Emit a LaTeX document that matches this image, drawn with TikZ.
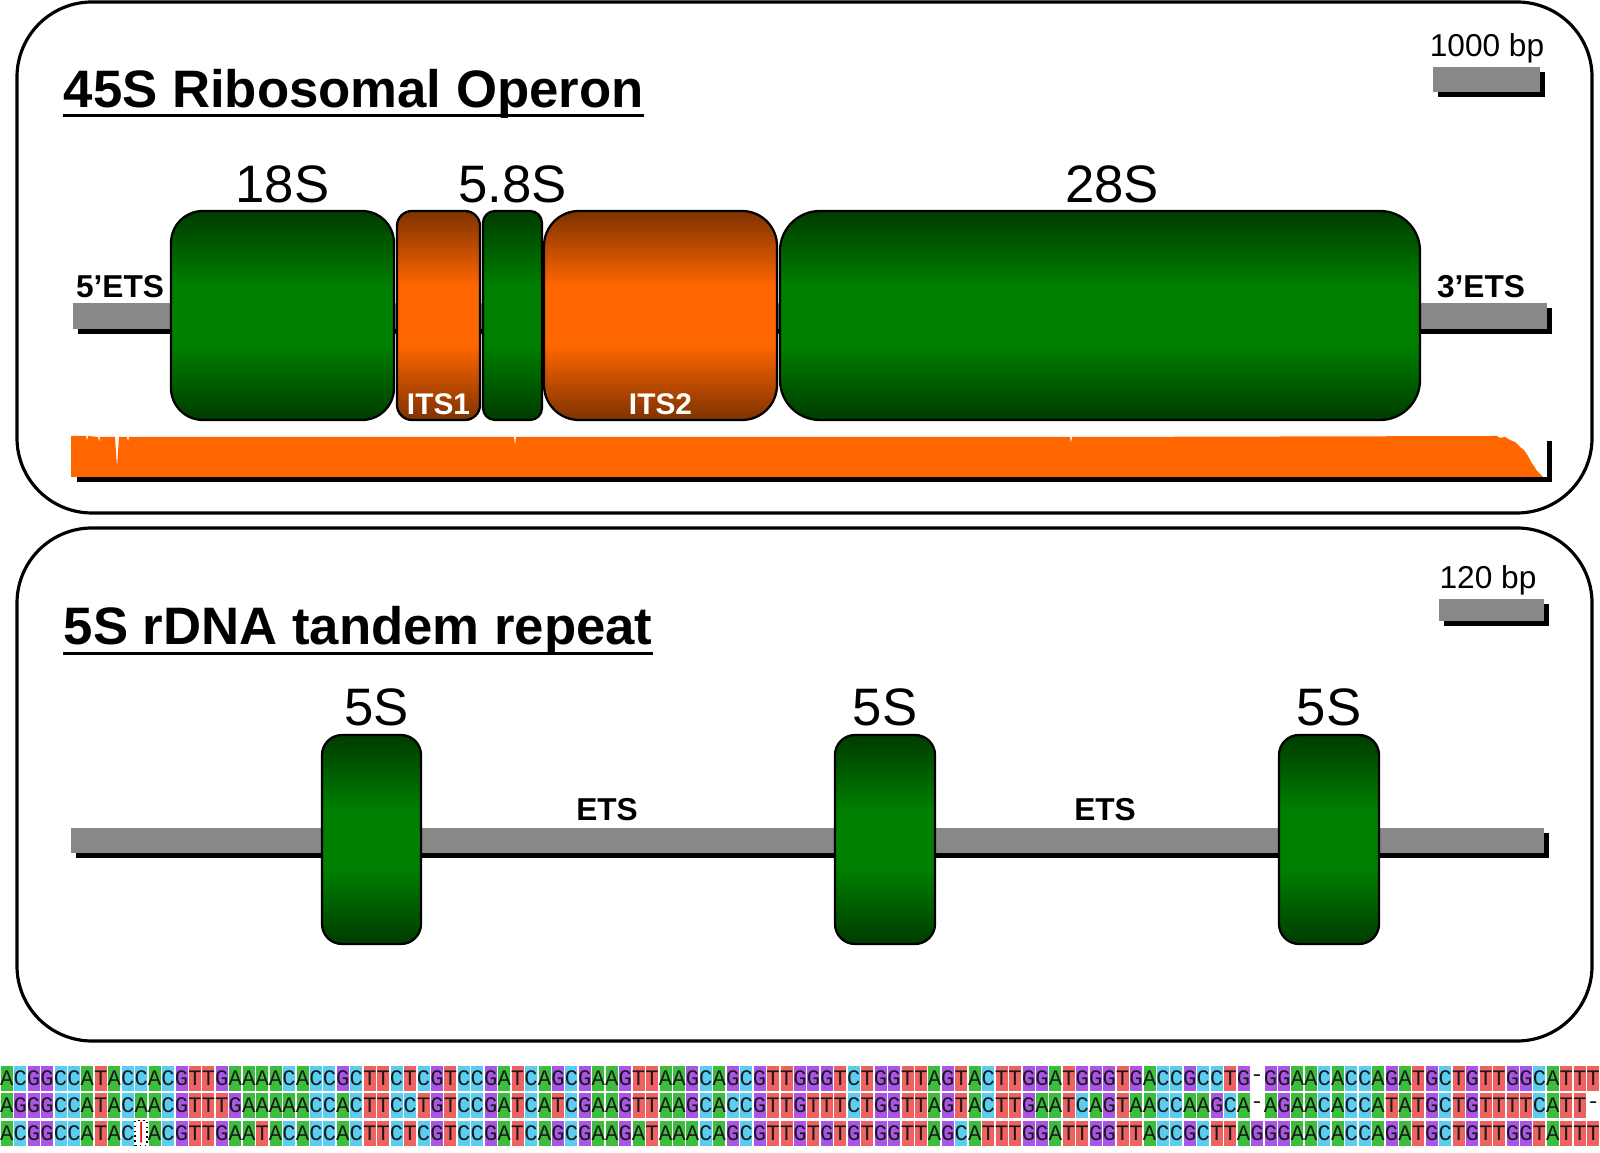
\documentclass[tikz,border=0pt]{standalone}
\usepackage{fontspec}
\setmainfont{Liberation Sans}
\setmonofont{Liberation Mono}
\definecolor{gdark}{RGB}{0,60,0}
\definecolor{glight}{RGB}{0,128,0}
\definecolor{odark}{RGB}{125,50,0}
\definecolor{olight}{RGB}{255,102,0}
\definecolor{bbgray}{RGB}{136,136,136}
\definecolor{ntA}{RGB}{60,190,60}
\definecolor{ntC}{RGB}{90,205,240}
\definecolor{ntG}{RGB}{170,85,230}
\definecolor{ntT}{RGB}{238,98,98}
\pgfdeclareverticalshading{gband}{100bp}{color(0bp)=(gdark); color(25bp)=(gdark);
  color(43bp)=(glight); color(57bp)=(glight); color(75bp)=(gdark); color(100bp)=(gdark)}
\pgfdeclareverticalshading{oband}{100bp}{color(0bp)=(odark); color(25bp)=(odark);
  color(43bp)=(olight); color(57bp)=(olight); color(75bp)=(odark); color(100bp)=(odark)}

\tikzset{
  panel/.style={line width=0.9pt, rounded corners=0.75cm},
  rrna/.style={draw, line width=0.65pt, inner sep=0pt, minimum height=2.09cm, shade, shading=gband},
  its/.style={rrna, shading=oband},
  ptitle/.style={font=\fontsize{15}{18}\selectfont\bfseries, inner sep=0pt, anchor=base west},
  biglbl/.style={font=\fontsize{15}{18}\selectfont, inner sep=0pt, anchor=base},
  smlbl/.style={font=\fontsize{9}{11}\selectfont\bfseries, inner sep=0pt, anchor=base},
  itslbl/.style={font=\fontsize{8.5}{10}\selectfont\bfseries, text=white, inner sep=0pt, anchor=base},
  scalelbl/.style={font=\fontsize{9}{11}\selectfont, inner sep=0pt, anchor=base},
  shbar/.style={fill=bbgray, preaction={fill=black, transform canvas={shift={(0.045cm,-0.05cm)}}}},
  nt/.style={minimum width=0.12cm, minimum height=0.25cm, inner sep=0pt,
    text=black!90, font=\fontsize{6.3}{7}\selectfont\ttfamily},
  ntA/.style={fill=ntA}, ntC/.style={fill=ntC}, ntG/.style={fill=ntG}, ntT/.style={fill=ntT},
  nt-/.style={fill=white},
  nt|/.style={fill=white, draw=black, densely dotted, line width=0.4pt, text=red},
}

% one row of the alignment, read letter by letter
\newcount\ntcol
\newcommand\alnrow[3]{\global\ntcol=0 \def\alnr{#1}\def\alny{#2}\alnnext#3\relax}
\def\alnnext#1{\ifx#1\relax\else\alncell#1\expandafter\alnnext\fi}
\def\alncell#1{\global\advance\ntcol by 1
  \node[nt, nt#1] (s\alnr-\the\ntcol) at ({(\the\ntcol-0.5)*0.13445},\alny) {\makebox[0pt]{#1}};}

\begin{document}
\begin{tikzpicture}
\useasboundingbox (0,0) rectangle (16,11.52);

% 45S panel
\draw[panel] (0.17,6.39) rectangle (15.92,11.50);
\node[ptitle] (t45) at (0.63,10.44) {45S Ribosomal Operon};
\draw[line width=0.85pt] ([yshift=-2.2pt]t45.base west) -- ([yshift=-2.2pt]t45.base east);

\fill[shbar] (14.33,10.60) rectangle (15.40,10.85);
\node[scalelbl] (sc1) at (14.87,10.95) {1000 bp};

\fill[shbar] (0.73,8.23) rectangle (15.47,8.49);
\node[smlbl] (ets5) at (1.20,8.54) {5’ETS};
\node[smlbl] (ets3) at (14.81,8.54) {3’ETS};

\node[rrna, minimum width=2.23cm, rounded corners=0.32cm] (r18) at (2.825,8.365) {};
\node[its, minimum width=0.83cm, rounded corners=0.15cm] (its1) at (4.385,8.365) {};
\node[rrna, minimum width=0.59cm, rounded corners=0.12cm] (r58) at (5.125,8.365) {};
\node[its, minimum width=2.33cm, rounded corners=0.35cm] (its2) at (6.605,8.365) {};
\node[rrna, minimum width=6.40cm, rounded corners=0.40cm] (r28) at (11.00,8.365) {};

\node[biglbl] (l18) at ([yshift=2pt]r18.north) {18S};
\node[biglbl] (l58) at ([yshift=2pt]r58.north) {5.8S};
\node[biglbl] (l28) at ([yshift=2pt,xshift=0.12cm]r28.north) {28S};
\node[itslbl] (li1) at ([yshift=2pt]its1.south) {ITS1};
\node[itslbl] (li2) at ([yshift=2pt]its2.south) {ITS2};

% read coverage
\fill[white, preaction={fill=black, transform canvas={shift={(0.045cm,-0.05cm)}}}]
  (0.72,6.75) rectangle (15.47,7.16);
\fill[olight] (0.71,6.75) -- (0.71,7.16) -- (0.86,7.16) -- (0.87,7.11) -- (0.88,7.16)
  -- (0.98,7.15) -- (0.99,7.10) -- (1.00,7.15) -- (1.15,7.15) -- (1.17,6.85) -- (1.19,7.15)
  -- (1.27,7.15) -- (1.28,7.10) -- (1.29,7.15) -- (5.14,7.15) -- (5.15,7.06) -- (5.16,7.15)
  -- (10.70,7.15) -- (10.71,7.09) -- (10.72,7.15) -- (14.97,7.16) -- (15.00,7.14)
  -- (15.05,7.15) -- (15.10,7.12) -- (15.15,7.10) -- (15.20,7.05) -- (15.24,7.02)
  -- (15.28,6.96) -- (15.31,6.90) -- (15.34,6.86) -- (15.37,6.81) -- (15.40,6.78)
  -- (15.43,6.75) -- cycle;

% 5S panel
\draw[panel] (0.17,1.11) rectangle (15.92,6.24);
\node[ptitle] (t5s) at (0.63,5.07) {5S rDNA tandem repeat};
\draw[line width=0.85pt] ([yshift=-2.3pt]t5s.base west) -- ([yshift=-2.3pt]t5s.base east);

\fill[shbar] (14.39,5.31) rectangle (15.44,5.53);
\node[scalelbl] (sc2) at (14.88,5.63) {120 bp};

\fill[shbar] (0.71,2.99) rectangle (15.44,3.24);
\node[smlbl] (etsa) at (6.07,3.31) {ETS};
\node[smlbl] (etsb) at (11.05,3.31) {ETS};

\node[rrna, minimum width=0.99cm, rounded corners=0.2cm] (r5a) at (3.715,3.125) {};
\node[rrna, minimum width=1.00cm, rounded corners=0.2cm] (r5b) at (8.85,3.125) {};
\node[rrna, minimum width=1.00cm, rounded corners=0.2cm] (r5c) at (13.29,3.125) {};
\node[biglbl] (l5a) at ([yshift=2.5pt,xshift=0.05cm]r5a.north) {5S};
\node[biglbl] (l5b) at ([yshift=2.5pt]r5b.north) {5S};
\node[biglbl] (l5c) at ([yshift=2.5pt]r5c.north) {5S};

% alignment
\alnrow{1}{0.74}{ACGGCCATACCACGTTGAAAACACCGCTTCTCGTCCGATCAGCGAAGTTAAGCAGCGTTGGGTCTGGTTAGTACTTGGATGGGTGACCGCCTG-GGAACACCAGATGCTGTTGGCATTT}
\alnrow{2}{0.465}{AGGGCCATACAACGTTTGAAAAACCACTTCCTGTCCGATCATCGAAGTTAAGCACCGTTGTTTCTGGTTAGTACTTGAATCAGTAACCAAGCA-AGAACACCATATGCTGTTTTCATT-}
\alnrow{3}{0.19}{ACGGCCATAC|ACGTTGAATACACCACTTCTCGTCCGATCAGCGAAGATAAACAGCGTTGTGTGTGGTTAGCATTTGGATTGGTTACCGCTTAGGGAACACCAGATGCTGTTGGTATTT}
\end{tikzpicture}
\end{document}
